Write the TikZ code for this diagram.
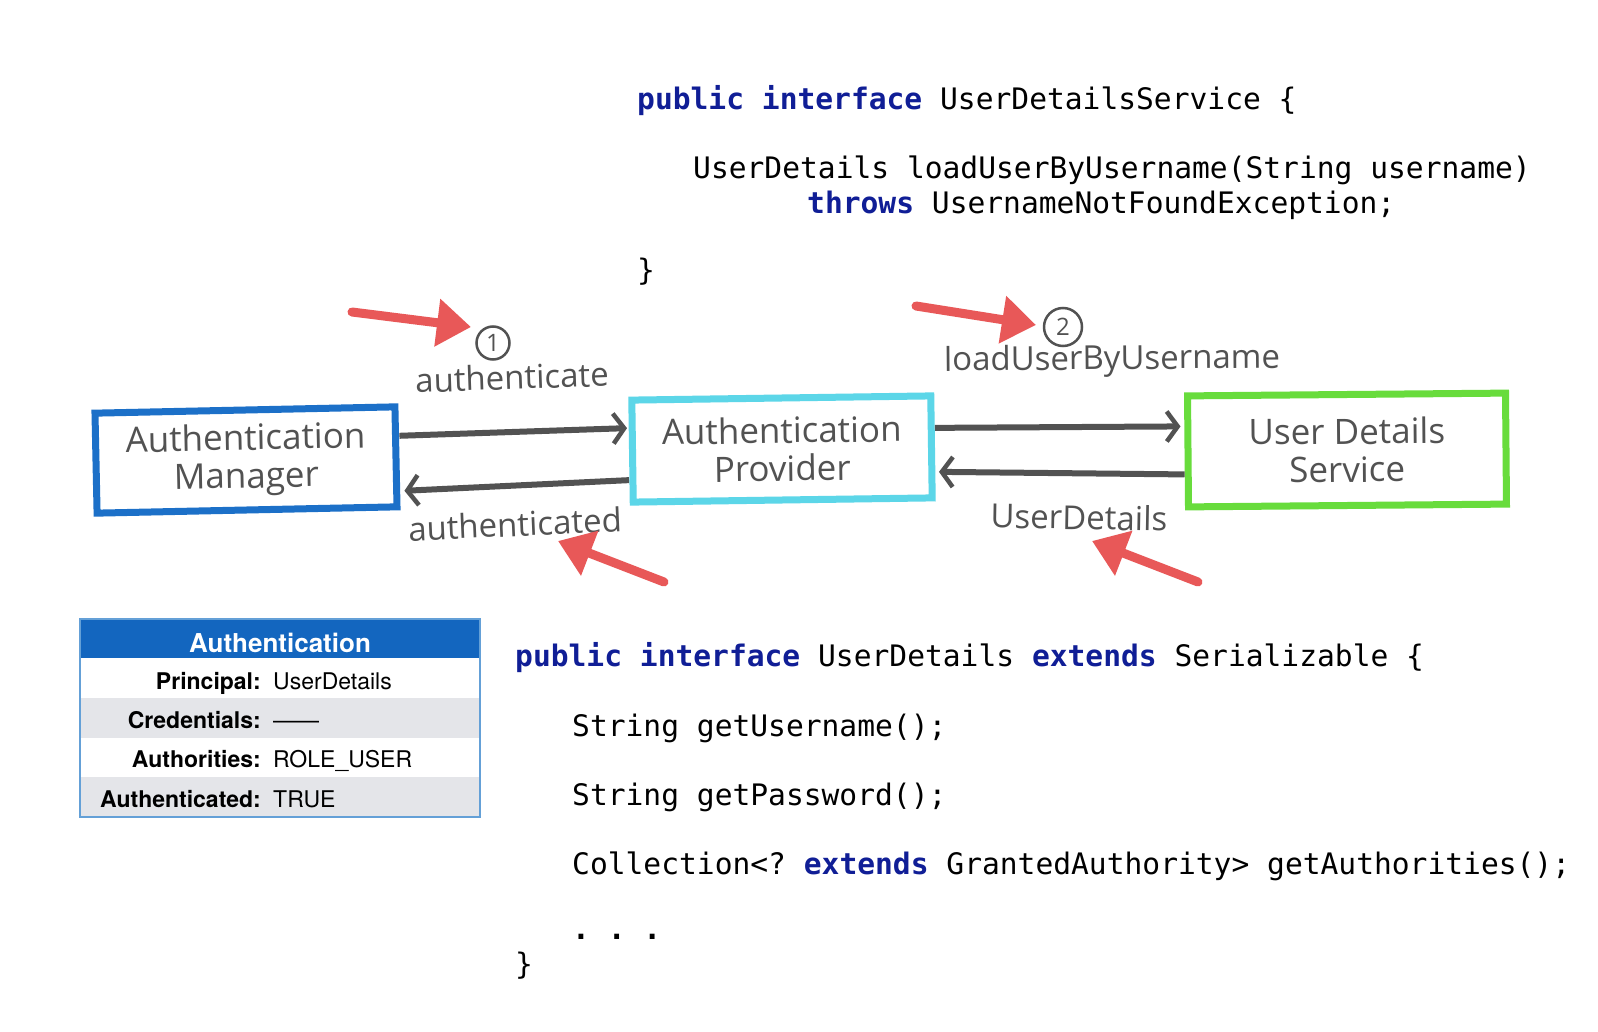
\documentclass[tikz,border=0pt]{standalone}
\usepackage{fontspec}
\usetikzlibrary{arrows.meta}
\setmainfont{TeX Gyre Heros}
\newfontfamily\handfont{Open Sans}
\newfontfamily\codefont{DejaVu Sans Mono}
\definecolor{kw}{RGB}{16,30,150}
\definecolor{amblue}{RGB}{28,112,200}
\definecolor{apcyan}{RGB}{92,214,232}
\definecolor{udgreen}{RGB}{104,220,60}
\definecolor{pencil}{RGB}{82,82,82}
\definecolor{redpen}{RGB}{232,88,88}
\definecolor{hdrblue}{RGB}{19,102,191}
\definecolor{rowgray}{RGB}{228,229,233}
\definecolor{tblborder}{RGB}{100,160,215}
\begin{document}
\frenchspacing
\begin{tikzpicture}[x=1pt,y=-1pt,
  sketchbox/.style={draw, line width=7pt, inner sep=0pt, align=center,
    font=\handfont\fontsize{35}{38}\selectfont, text=pencil},
  flow/.style={draw=pencil, line width=6pt,
    -{Straight Barb[length=11pt,width=30pt,line width=4.5pt]}},
  note/.style={font=\handfont\fontsize{33}{33}\selectfont, text=pencil, inner sep=0pt},
  numcirc/.style={draw=pencil, circle, line width=2.5pt, inner sep=0pt,
    font=\handfont\fontsize{24}{24}\selectfont, text=pencil},
  pointer/.style={draw=redpen, line width=9pt, line cap=round,
    -{Triangle[length=34pt,width=46pt]}},
  code/.style={font=\codefont\fontsize{29.6}{34.7}\selectfont\frenchspacing, anchor=base west, inner sep=0pt},
  tlabel/.style={font=\bfseries\fontsize{23}{23}\selectfont, anchor=base east, inner sep=0pt},
  tvalue/.style={font=\fontsize{23}{23}\selectfont, anchor=base west, inner sep=0pt}]
\useasboundingbox[fill=white] (0,0) rectangle (1598,1032);

% ---------- top code ----------
\node[code] (c1) at (637,110) {\textcolor{kw}{\bfseries public interface} UserDetailsService \{};
\node[code] (c2) at (693,179) {UserDetails loadUserByUsername(String username)};
\node[code] (c3) at (807,214) {\textcolor{kw}{\bfseries throws} UsernameNotFoundException;};
\node[code] (c4) at (637,281) {\}};

% ---------- sketch boxes ----------
\node[sketchbox, draw=amblue, minimum width=300pt, minimum height=100pt, rotate=1.2]
  (am) at (246,460) {Authentication\\Manager};
\node[sketchbox, draw=apcyan, minimum width=299pt, minimum height=102pt, rotate=0.8]
  (ap) at (782,449) {Authentication\\Provider};
\node[sketchbox, draw=udgreen, minimum width=318pt, minimum height=111pt, rotate=0.5]
  (uds) at (1347,450) {User Details\\Service};

% ---------- grey flow arrows ----------
\draw[flow] ([yshift=21pt]am.east) -- ([xshift=-2pt,yshift=23pt]ap.west);
\draw[flow] ([yshift=-29pt]ap.west) -- ([xshift=5pt,yshift=-34pt]am.east);
\draw[flow] ([yshift=19pt]ap.east) -- ([xshift=-4pt,yshift=25pt]uds.west);
\draw[flow] ([yshift=-23pt]uds.west) -- ([xshift=4pt,yshift=-25pt]ap.east);

% ---------- labels ----------
\node[numcirc, minimum size=33pt] (n1) at (493,343) {1};
\node[note, rotate=2] (l1) at (512,377) {authenticate};
\node[note, rotate=2.5] (l2) at (515,524) {authenticated};
\node[numcirc, minimum size=38pt] (n2) at (1063,327) {2};
\node[note, rotate=0.5] (l3) at (1112,361) {loadUserByUsername};
\node[note, rotate=-1] (l4) at (1079,517) {UserDetails};

% ---------- red pointers ----------
\coordinate (r1s) at (352,312); \coordinate (r1e) at (471,327);
\coordinate (r2s) at (664,582); \coordinate (r2e) at (558,541);
\coordinate (r3s) at (916,306); \coordinate (r3e) at (1036,325);
\coordinate (r4s) at (1198,582); \coordinate (r4e) at (1092,541);
\draw[pointer] (r1s) -- (r1e);
\draw[pointer] (r2s) -- (r2e);
\draw[pointer] (r3s) -- (r3e);
\draw[pointer] (r4s) -- (r4e);

% ---------- Authentication table ----------
\fill[hdrblue] (80,619) rectangle (480,658);
\fill[white] (80,658) rectangle (480,698);
\fill[rowgray] (80,698) rectangle (480,738);
\fill[white] (80,738) rectangle (480,777);
\fill[rowgray] (80,777) rectangle (480,817);
\draw[tblborder, line width=1.5pt] (80,619) rectangle (480,817);
\node[font=\bfseries\fontsize{26}{26}\selectfont, text=white, inner sep=0pt] (hdr) at (280,643) {Authentication};
\node[tlabel] (k1) at (261,689) {Principal:};
\node[tvalue] (v1) at (273,689) {UserDetails};
\node[tlabel] (k2) at (261,728) {Credentials:};
\node[tvalue] (v2) at (273,728) {——};
\node[tlabel] (k3) at (261,767) {Authorities:};
\node[tvalue] (v3) at (273,767) {ROLE\_USER};
\node[tlabel] (k4) at (261,807) {Authenticated:};
\node[tvalue] (v4) at (273,807) {TRUE};

% ---------- bottom code ----------
\node[code] (d1) at (515,666) {\textcolor{kw}{\bfseries public interface} UserDetails \textcolor{kw}{\bfseries extends} Serializable \{};
\node[code] (d2) at (572,736) {String getUsername();};
\node[code] (d3) at (572,805) {String getPassword();};
\node[code] (d4) at (572,874) {Collection<? \textcolor{kw}{\bfseries extends} GrantedAuthority> getAuthorities();};
\node[code] (d5) at (572,939) {\bfseries . . .};
\node[code] (d6) at (515,974) {\}};
\end{tikzpicture}
\end{document}
